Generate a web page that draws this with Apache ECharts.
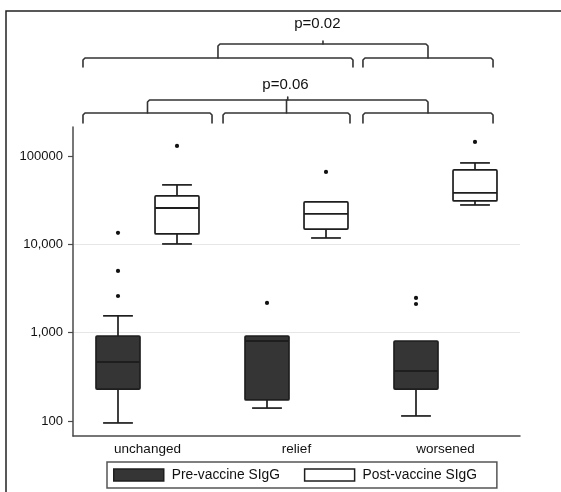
<!DOCTYPE html>
<html><head><meta charset="utf-8">
<script src="https://cdn.jsdelivr.net/npm/echarts@6/dist/echarts.min.js"></script>
<style>html,body{margin:0;padding:0;background:#fff}#c{width:561px;height:492px}</style>
</head><body><div id="c"></div>
<script>
const categories = ['unchanged', 'relief', 'worsened'];
const seriesNames = ['Pre-vaccine SIgG', 'Post-vaccine SIgG'];
// [category index, low whisker, Q1, median, Q3, high whisker]
const preBoxes = [
  [0, 95, 230, 466, 917, 1550],
  [1, 140, 173, 805, 917, 917],
  [2, 114, 230, 368, 805, 805]
];
const postBoxes = [
  [0, 10100, 13100, 25800, 35300, 47100],
  [1, 11800, 14900, 22100, 30200, 30200],
  [2, 27900, 31000, 38200, 69600, 83500]
];
const preOutliers = [[0, 13500], [0, 5000], [0, 2600], [1, 2170], [2, 2470], [2, 2110]];
const postOutliers = [[0, 130000], [1, 66000], [2, 144500]];
const yTickValues = [100, 1000, 10000, 100000];
const yTickLabels = ['100', '1,000', '10,000', '100000'];
// brackets: p-value label, lower brackets as [from, to] in category units, y levels in px
const pLabels = ['p=0.02', 'p=0.06'];
const bracketGroups = [
  { label: pLabels[0], spans: [[0.067, 1.879], [1.946, 2.819]], textU: 1.64, yText: 24, yTop: 44, yLow: 58, yEnd: 67 },
  { label: pLabels[1], spans: [[0.067, 0.933], [1.007, 1.859], [1.946, 2.819]], textU: 1.426, yText: 85, yTop: 100, yLow: 113, yEnd: 123 }
];

const FONT = "'Liberation Sans', Arial, Helvetica, sans-serif";
const INK = '#1e1e1e';
const TXT = '#111';
const OFFSET = 0.198, BOXW = 0.295, CAPW = 0.2;

function boxRender(sign, fill) {
  return function (params, api) {
    const c = api.value(0);
    const p0 = api.coord([c, api.value(3)]);
    const band = api.size([1, 0], [c, 1000])[0];
    const x = p0[0] + sign * band * OFFSET;
    const w = band * BOXW, cap = band * CAPW;
    const y = i => api.coord([c, api.value(i)])[1];
    const yLow = y(1), yQ1 = y(2), yMed = y(3), yQ3 = y(4), yHigh = y(5);
    const st = { stroke: INK, lineWidth: 1.7, fill: null };
    const ch = [];
    if (api.value(5) > api.value(4)) {
      ch.push({ type: 'line', shape: { x1: x, y1: yHigh, x2: x, y2: yQ3 }, style: st });
      ch.push({ type: 'line', shape: { x1: x - cap / 2, y1: yHigh, x2: x + cap / 2, y2: yHigh }, style: st });
    }
    if (api.value(2) > api.value(1)) {
      ch.push({ type: 'line', shape: { x1: x, y1: yQ1, x2: x, y2: yLow }, style: st });
      ch.push({ type: 'line', shape: { x1: x - cap / 2, y1: yLow, x2: x + cap / 2, y2: yLow }, style: st });
    }
    ch.push({ type: 'rect', shape: { x: x - w / 2, y: yQ3, width: w, height: yQ1 - yQ3, r: 1 }, style: { fill: fill, stroke: INK, lineWidth: 1.7 } });
    ch.push({ type: 'line', shape: { x1: x - w / 2, y1: yMed, x2: x + w / 2, y2: yMed }, style: { stroke: INK, lineWidth: 1.9 } });
    return { type: 'group', children: ch };
  };
}
function dotRender(sign) {
  return function (params, api) {
    const c = api.value(0);
    const p = api.coord([c, api.value(1)]);
    const band = api.size([1, 0], [c, 1000])[0];
    return { type: 'circle', shape: { cx: p[0] + sign * band * OFFSET, cy: p[1], r: 2.1 }, style: { fill: '#111' } };
  };
}

const chart = echarts.init(document.getElementById('c'), null, { renderer: 'canvas' });
chart.setOption({
  animation: false,
  backgroundColor: '#fff',
  textStyle: { fontFamily: FONT },
  grid: { left: 73, right: 41, top: 127, bottom: 56 },
  legend: {
    data: seriesNames,
    left: 107, top: 462,
    padding: [6, 20, 6, 6],
    borderColor: '#555', borderWidth: 1.5,
    itemGap: 24, itemWidth: 50, itemHeight: 12,
    icon: 'rect',
    itemStyle: { borderColor: INK, borderWidth: 1.5 },
    textStyle: { fontSize: 13.8, color: TXT, fontFamily: FONT, padding: [0, 0, 0, 3] }
  },
  xAxis: {
    type: 'category', data: categories,
    axisLine: { lineStyle: { color: '#4a4a4a', width: 1.5 } },
    axisTick: { show: false },
    axisLabel: { fontSize: 13.5, color: TXT, margin: 6, fontFamily: FONT },
    splitLine: { show: false }
  },
  yAxis: {
    type: 'log', logBase: 10, min: 67.6, max: 213000,
    axisLine: { show: true, lineStyle: { color: '#4a4a4a', width: 1.5 } },
    axisTick: { show: true, length: 5, customValues: yTickValues, lineStyle: { color: '#4a4a4a', width: 1.2 } },
    axisLabel: {
      customValues: yTickValues, margin: 10, fontSize: 13, color: TXT, fontFamily: FONT,
      formatter: function (v) {
        const i = yTickValues.findIndex(t => Math.abs(t - v) / t < 1e-6);
        return i >= 0 ? yTickLabels[i] : '';
      }
    },
    splitLine: { show: true, showMinLine: false, showMaxLine: false, lineStyle: { color: '#e6e6e6', width: 1 } }
  },
  series: [
    { type: 'custom', name: seriesNames[0], renderItem: boxRender(-1, '#353535'), data: preBoxes, encode: { x: 0, y: [1, 2, 3, 4, 5] }, itemStyle: { color: '#353535' }, z: 3 },
    { type: 'custom', name: seriesNames[1], renderItem: boxRender(1, '#ffffff'), data: postBoxes, encode: { x: 0, y: [1, 2, 3, 4, 5] }, itemStyle: { color: '#ffffff' }, z: 3 },
    { type: 'custom', name: 'pre-outliers', renderItem: dotRender(-1), data: preOutliers, encode: { x: 0, y: 1 }, z: 4 },
    { type: 'custom', name: 'post-outliers', renderItem: dotRender(1), data: postOutliers, encode: { x: 0, y: 1 }, z: 4 }
  ]
});

// annotations (brackets) positioned from the category axis
const c0 = chart.convertToPixel({ xAxisIndex: 0 }, 0);
const c1 = chart.convertToPixel({ xAxisIndex: 0 }, 1);
const band = c1 - c0;
const xu = u => c0 + (u - 0.5) * band;
const LINE = { stroke: '#333', lineWidth: 1.6, fill: null, lineJoin: 'round', lineCap: 'round' };
const graphics = [
  { type: 'polyline', shape: { points: [[6, 492], [6, 11], [561, 11]] }, style: { stroke: '#222', lineWidth: 1.5, fill: null }, z: 10 }
];
bracketGroups.forEach(g => {
  const mids = [];
  g.spans.forEach(s => {
    const a = xu(s[0]), b = xu(s[1]);
    graphics.push({ type: 'polyline', shape: { points: [[a, g.yEnd], [a, g.yLow + 2], [a + 2, g.yLow], [b - 2, g.yLow], [b, g.yLow + 2], [b, g.yEnd]] }, style: LINE });
    mids.push((s[0] + s[1]) / 2);
  });
  const l = xu(mids[0]), r = xu(mids[mids.length - 1]);
  graphics.push({ type: 'polyline', shape: { points: [[l, g.yLow], [l, g.yTop + 2], [l + 2, g.yTop], [r - 2, g.yTop], [r, g.yTop + 2], [r, g.yLow]] }, style: LINE });
  mids.slice(1, -1).forEach(m => {
    graphics.push({ type: 'line', shape: { x1: xu(m), y1: g.yTop, x2: xu(m), y2: g.yLow }, style: LINE });
  });
  const tm = xu((mids[0] + mids[mids.length - 1]) / 2);
  graphics.push({ type: 'line', shape: { x1: tm, y1: g.yTop - 3, x2: tm, y2: g.yTop }, style: LINE });
  graphics.push({ type: 'text', style: { text: g.label, x: xu(g.textU), y: g.yText, align: 'center', verticalAlign: 'middle', font: '15px ' + FONT, fill: TXT } });
});
chart.setOption({ graphic: graphics });
</script>
</body></html>
